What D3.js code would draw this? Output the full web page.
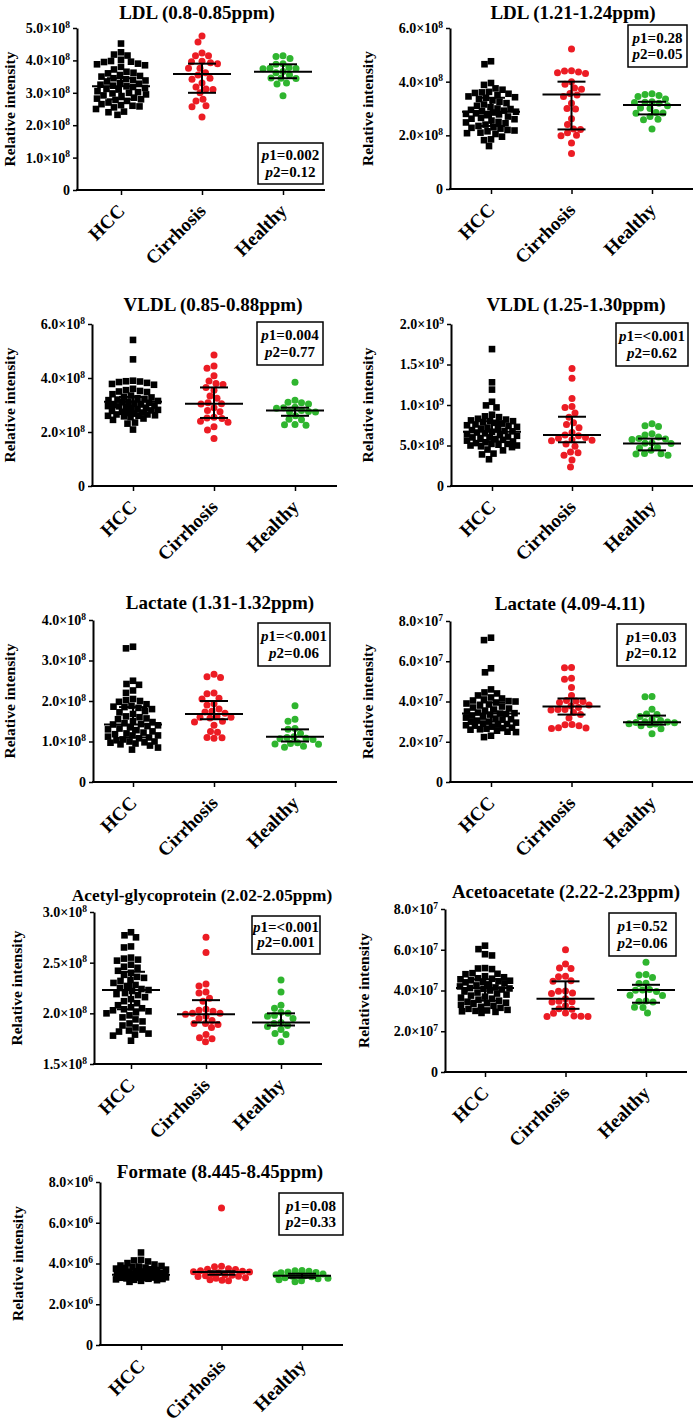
<!DOCTYPE html>
<html><head><meta charset="utf-8">
<script src="https://cdn.jsdelivr.net/npm/d3@7"></script>
<style>body{margin:0;background:#fff}svg{display:block}text{font-family:"Liberation Serif","Times New Roman",serif;font-weight:bold}</style>
</head><body>
<svg id="c" width="695" height="1425"></svg>
<script>
// ---------------- DATA ----------------
const groups = ["HCC", "Cirrhosis", "Healthy"];
const titles = ["LDL (0.8-0.85ppm)", "LDL (1.21-1.24ppm)", "VLDL (0.85-0.88ppm)", "VLDL (1.25-1.30ppm)",
  "Lactate (1.31-1.32ppm)", "Lactate (4.09-4.11)", "Acetyl-glycoprotein (2.02-2.05ppm)",
  "Acetoacetate (2.22-2.23ppm)", "Formate (8.445-8.45ppm)"];
const p1Values = ["0.002", "0.28", "0.004", "<0.001", "<0.001", "0.03", "<0.001", "0.52", "0.08"];
const p2Values = ["0.12", "0.05", "0.77", "0.62", "0.06", "0.12", "0.001", "0.06", "0.33"];
// value units: panels 1-5,7 in 1e8; panels 6,8 in 1e7; panel 9 in 1e6
const yDomains = [[0,5],[0,6],[0,6],[0,20],[0,4],[0,8],[1.5,3],[0,8],[0,8]];
const yTickValues = [[0,1,2,3,4,5],[0,2,4,6],[0,2,4,6],[0,5,10,15,20],[0,1,2,3,4],[0,2,4,6,8],[1.5,2,2.5,3],[0,2,4,6,8],[0,2,4,6,8]];
const yTickMantissa = [["0","1.0","2.0","3.0","4.0","5.0"],["0","2.0","4.0","6.0"],["0","2.0","4.0","6.0"],
  ["0","5.0","1.0","1.5","2.0"],["0","1.0","2.0","3.0","4.0"],["0","2.0","4.0","6.0","8.0"],
  ["1.5","2.0","2.5","3.0"],["0","2.0","4.0","6.0","8.0"],["0","2.0","4.0","6.0","8.0"]];
const yTickExponent = [[null,8,8,8,8,8],[null,8,8,8],[null,8,8,8],[null,8,9,9,9],[null,8,8,8,8],
  [null,7,7,7,7],[8,8,8,8],[null,7,7,7,7],[null,6,6,6,6]];

const hccValues = [
  [4.52,4.25,4.18,4.15,4.02,3.98,3.96,3.95,3.9,3.88,3.85,3.8,3.72,3.65,3.62,3.6,3.55,3.52,3.5,3.45,3.42,3.4,3.38,3.35,3.3,3.28,3.25,3.22,3.2,3.18,3.15,3.12,3.1,3.05,3.02,3.0,2.98,2.95,2.92,2.9,2.85,2.82,2.8,2.78,2.75,2.7,2.65,2.62,2.6,2.58,2.55,2.5,2.42,2.4,2.32],
  [4.76,4.65,3.95,3.88,3.75,3.7,3.62,3.6,3.58,3.55,3.5,3.45,3.42,3.4,3.35,3.3,3.25,3.2,3.15,3.1,3.05,3.0,2.98,2.95,2.92,2.9,2.88,2.85,2.82,2.8,2.78,2.75,2.7,2.65,2.62,2.6,2.55,2.5,2.48,2.45,2.4,2.35,2.3,2.28,2.25,2.2,2.18,2.15,2.1,2.08,2.05,1.95,1.85,1.82,1.6],
  [5.41,4.69,3.9,3.88,3.87,3.85,3.82,3.78,3.75,3.6,3.55,3.52,3.5,3.48,3.4,3.35,3.3,3.28,3.25,3.22,3.2,3.18,3.15,3.12,3.1,3.08,3.05,3.02,3.0,2.98,2.96,2.95,2.92,2.9,2.88,2.85,2.82,2.8,2.78,2.75,2.72,2.7,2.68,2.65,2.65,2.62,2.6,2.6,2.58,2.55,2.5,2.45,2.35,2.31,2.09],
  [16.9,12.8,11.9,10.4,9.95,9.7,8.8,8.6,8.5,8.3,8.2,8.1,8.0,8.0,7.9,7.8,7.7,7.6,7.5,7.4,7.3,7.2,7.1,7.0,6.9,6.8,6.75,6.7,6.6,6.5,6.4,6.3,6.2,6.1,6.0,6.0,5.9,5.8,5.7,5.6,5.5,5.4,5.3,5.2,5.2,5.1,5.0,5.0,4.9,4.8,4.5,4.4,4.0,3.9,3.3],
  [3.34,3.3,2.5,2.42,2.4,2.26,2.2,2.05,2.02,2.0,1.98,1.92,1.88,1.86,1.85,1.83,1.8,1.75,1.72,1.68,1.62,1.6,1.57,1.55,1.5,1.48,1.45,1.43,1.42,1.4,1.38,1.35,1.32,1.3,1.28,1.25,1.22,1.2,1.18,1.15,1.15,1.12,1.1,1.08,1.05,1.03,1.0,1.0,0.98,0.97,0.95,0.93,0.9,0.85,0.8],
  [7.17,7.05,5.65,5.45,4.6,4.45,4.4,4.3,4.2,4.15,4.1,4.05,4.02,4.0,3.95,3.9,3.85,3.8,3.75,3.7,3.65,3.6,3.55,3.5,3.45,3.42,3.4,3.38,3.35,3.3,3.25,3.2,3.15,3.12,3.1,3.05,3.0,3.0,2.95,2.9,2.88,2.85,2.82,2.8,2.75,2.7,2.68,2.65,2.62,2.6,2.55,2.5,2.48,2.3,2.23],
  [2.8,2.77,2.75,2.66,2.65,2.55,2.54,2.53,2.52,2.48,2.46,2.45,2.42,2.4,2.38,2.36,2.35,2.33,2.32,2.3,2.28,2.27,2.25,2.24,2.23,2.22,2.2,2.19,2.18,2.16,2.14,2.12,2.1,2.08,2.06,2.05,2.04,2.03,2.02,2.01,2.0,1.98,1.96,1.94,1.92,1.9,1.88,1.86,1.84,1.83,1.82,1.8,1.79,1.78,1.73],
  [6.2,6.03,5.78,5.72,5.1,5.08,5.05,4.85,4.82,4.8,4.7,4.65,4.6,4.58,4.55,4.5,4.48,4.45,4.42,4.4,4.35,4.3,4.25,4.2,4.15,4.12,4.1,4.08,4.05,4.0,3.95,3.9,3.85,3.8,3.75,3.7,3.65,3.6,3.55,3.5,3.45,3.4,3.38,3.35,3.3,3.25,3.2,3.15,3.1,3.05,3.02,3.0,2.98,2.95,2.9],
  [4.54,4.18,4.15,4.1,4.02,3.95,3.9,3.88,3.85,3.82,3.8,3.78,3.75,3.72,3.7,3.68,3.65,3.62,3.6,3.58,3.56,3.55,3.54,3.52,3.5,3.5,3.48,3.47,3.46,3.45,3.44,3.43,3.42,3.41,3.4,3.4,3.38,3.37,3.36,3.35,3.34,3.33,3.32,3.31,3.3,3.3,3.28,3.27,3.25,3.24,3.22,3.2,3.18,3.15,3.1]
];
const cirrhosisValues = [
  [4.75,4.57,4.23,4.14,4.14,3.97,3.96,3.93,3.9,3.76,3.76,3.62,3.55,3.45,3.42,3.3,3.18,3.12,3.1,3.0,2.8,2.75,2.6,2.57,2.25],
  [5.22,4.41,4.4,4.36,4.33,4.3,4.0,3.9,3.76,3.72,3.56,3.5,3.45,3.2,3.0,2.98,2.62,2.4,2.24,2.22,2.1,2.0,1.98,1.71,1.32],
  [4.85,4.44,4.36,4.08,3.89,3.8,3.76,3.65,3.55,3.33,3.25,3.08,3.05,3.04,2.9,2.8,2.75,2.55,2.52,2.5,2.4,2.36,2.19,2.07,1.76],
  [14.5,13.3,10.8,9.8,9.7,9.0,8.5,7.8,7.6,7.2,6.6,6.3,6.2,6.0,5.9,5.7,5.65,5.6,5.2,4.9,4.2,4.1,3.8,3.2,2.35],
  [2.66,2.6,2.58,2.2,2.18,2.07,2.05,1.93,1.9,1.8,1.75,1.73,1.7,1.62,1.6,1.6,1.58,1.5,1.48,1.4,1.25,1.23,1.1,1.09,1.08],
  [5.69,5.68,5.15,5.1,4.7,4.3,4.05,4.03,4.0,3.95,3.82,3.78,3.7,3.6,3.6,3.58,3.45,3.35,3.18,2.86,2.84,2.8,2.7,2.68,2.66],
  [2.75,2.6,2.29,2.27,2.21,2.2,2.15,2.12,2.04,2.03,2.02,2.0,2.0,1.99,1.97,1.95,1.93,1.9,1.9,1.89,1.86,1.79,1.76,1.75,1.72],
  [6.0,5.3,5.1,5.08,4.7,4.68,4.48,4.45,3.98,3.96,3.88,3.85,3.6,3.47,3.45,3.43,3.25,3.1,3.08,2.9,2.88,2.75,2.74,2.73,2.72],
  [6.72,3.86,3.84,3.74,3.72,3.7,3.65,3.62,3.6,3.58,3.55,3.5,3.45,3.42,3.4,3.38,3.36,3.3,3.28,3.2,3.18,3.15]
];
const healthyValues = [
  [4.14,4.12,4.06,3.9,3.88,3.78,3.76,3.75,3.74,3.66,3.62,3.55,3.46,3.45,3.44,3.3,3.27,2.91],
  [3.55,3.52,3.48,3.45,3.35,3.25,3.23,3.22,3.2,3.1,3.02,3.0,2.85,2.83,2.82,2.7,2.6,2.58,2.24],
  [3.84,3.18,3.1,3.08,3.04,2.92,2.9,2.88,2.8,2.76,2.75,2.74,2.6,2.47,2.45,2.28,2.27,2.25],
  [7.7,7.45,7.35,6.45,6.3,6.05,5.85,5.8,5.75,5.3,5.28,5.25,4.75,4.7,4.4,4.0,3.98,3.95,3.8],
  [1.88,1.55,1.5,1.32,1.3,1.2,1.12,1.1,1.08,1.07,1.05,0.97,0.95,0.94,0.93,0.88,0.86],
  [4.25,4.24,3.62,3.38,3.36,3.25,3.1,3.05,3.0,2.98,2.96,2.95,2.9,2.88,2.85,2.8,2.65,2.4],
  [2.33,2.21,2.08,2.05,2.01,2.0,1.98,1.97,1.95,1.91,1.9,1.88,1.87,1.84,1.8,1.79,1.72],
  [5.39,4.78,4.76,4.64,4.36,4.34,4.05,4.03,4.01,3.95,3.77,3.75,3.48,3.46,3.44,3.18,3.16,2.89],
  [3.66,3.64,3.62,3.58,3.56,3.55,3.48,3.45,3.42,3.4,3.38,3.35,3.3,3.28,3.25,3.2,3.15,3.1]
];
// median and interquartile range per panel: [HCC, Cirrhosis, Healthy]
const medians = [[3.2,3.58,3.65],[2.88,3.52,3.13],[3.12,3.05,2.8],[6.7,6.3,5.25],[1.42,1.68,1.12],[3.4,3.75,2.97],[2.23,1.99,1.91],[4.12,3.6,4.02],[3.45,3.58,3.4]];
const lowerQuartiles = [[2.8,3.0,3.45],[2.35,2.22,2.78],[2.75,2.52,2.6],[5.5,5.4,4.4],[1.1,1.55,1.0],[3.0,3.35,2.85],[2.04,1.91,1.88],[3.5,3.1,3.4],[3.32,3.45,3.3]];
const upperQuartiles = [[3.45,3.9,3.88],[3.4,4.0,3.25],[3.3,3.65,2.9],[8.0,8.55,5.85],[1.85,2.0,1.3],[3.95,4.15,3.3],[2.41,2.13,2.0],[4.55,4.45,4.28],[3.7,3.62,3.5]];

// ---------------- LAYOUT ----------------
const layout = [
  {x0:77,  x1:325, g0:121, g2:283, yTop:28,   yBot:190,  tx:197, ty:19,   tfs:19,  lx:15,  box:[258,143,323,184]},
  {x0:450, x1:693, g0:491, g2:652, yTop:28,   yBot:189,  tx:573, ty:19,   tfs:19,  lx:373, box:[628,25,687,67]},
  {x0:92,  x1:337, g0:133, g2:295, yTop:324,  yBot:486,  tx:213, ty:311,  tfs:19,  lx:15,  box:[257,322,323,365]},
  {x0:451, x1:693, g0:492, g2:652, yTop:324,  yBot:486,  tx:576, ty:311,  tfs:19,  lx:373, box:[616,323,688,366]},
  {x0:93,  x1:337, g0:133, g2:295, yTop:620,  yBot:782,  tx:220, ty:609,  tfs:19,  lx:15,  box:[258,623,330,666]},
  {x0:450, x1:693, g0:491, g2:652, yTop:621,  yBot:782,  tx:570, ty:610,  tfs:19,  lx:373, box:[617,624,686,666]},
  {x0:94,  x1:322, g0:131, g2:281, yTop:912,  yBot:1064, tx:202, ty:901,  tfs:17.3,lx:22,  box:[252,916,320,954]},
  {x0:445, x1:687, g0:485, g2:646, yTop:909,  yBot:1072, tx:566, ty:898,  tfs:18.8,lx:369, box:[609,913,676,956]},
  {x0:100, x1:343, g0:141, g2:302, yTop:1182, yBot:1345, tx:220, ty:1178, tfs:19,  lx:23,  box:[279,1193,343,1235]}
];
const colors = ["#000000", "#ec1c24", "#2fb52f"];
const swarmHalfWidth = [25, 28, 26];

const svg = d3.select("#c");
svg.append("rect").attr("width",695).attr("height",1425).attr("fill","#fff");

// beeswarm placement limited to a maximum half-width (points may overlap when crowded)
function swarm(values, y, cx, d, maxHalf) {
  const pts = values.map(v => ({v, y: y(v)})).sort((a, b) => a.y - b.y);
  const placed = [];
  const steps = Math.floor(maxHalf / 0.5);
  for (const p of pts) {
    let bestX = cx, bestScore = -1;
    for (let k = 0; k <= steps * 2; k++) {
      const off = (k % 2 === 0 ? 1 : -1) * Math.ceil(k / 2) * 0.5;
      const cand = cx + off;
      let minD = Infinity;
      for (const q of placed) {
        const dd = Math.hypot(q.x - cand, q.y - p.y);
        if (dd < minD) minD = dd;
      }
      if (minD >= d) { bestX = cand; bestScore = Infinity; break; }
      if (minD > bestScore + 0.01) { bestScore = minD; bestX = cand; }
    }
    p.x = bestX; placed.push(p);
  }
  return pts;
}

layout.forEach((L, i) => {
  const g = svg.append("g");
  const y = d3.scaleLinear().domain(yDomains[i]).range([L.yBot, L.yTop]);
  const x = d3.scalePoint().domain(groups).range([L.g0, L.g2]);

  // title
  g.append("text").attr("x", L.tx).attr("y", L.ty).attr("text-anchor", "middle")
    .attr("font-size", L.tfs).text(titles[i]);

  // y axis
  const ya = g.append("g").attr("transform", `translate(${L.x0},0)`)
    .call(d3.axisLeft(y).tickValues(yTickValues[i]).tickSize(4).tickSizeOuter(0).tickPadding(3));
  ya.select(".domain").attr("stroke-width", 2);
  ya.selectAll(".tick line").attr("stroke-width", 1.5);
  ya.selectAll(".tick text").each(function(d, j) {
    const t = d3.select(this).text(null).attr("font-size", 14)
      .attr("font-family", '"Liberation Serif","Times New Roman",serif').attr("font-weight", "bold");
    const e = yTickExponent[i][j];
    if (e === null) { t.text(yTickMantissa[i][j]); }
    else {
      t.append("tspan").text(yTickMantissa[i][j] + "×10");
      t.append("tspan").attr("font-size", 9.5).attr("dy", "-0.55em").text(e);
    }
  });

  // x axis
  const xa = g.append("g").attr("transform", `translate(0,${L.yBot})`)
    .call(d3.axisBottom(x).tickSize(5).tickSizeOuter(0));
  xa.select(".domain").remove();
  xa.selectAll(".tick line").attr("stroke-width", 1.5);
  xa.selectAll(".tick text").remove();
  g.append("line").attr("x1", L.x0 - 1).attr("x2", L.x1).attr("y1", L.yBot).attr("y2", L.yBot)
    .attr("stroke", "#000").attr("stroke-width", 2);
  groups.forEach(gr => {
    g.append("text").attr("text-anchor", "end").attr("font-size", 19)
      .attr("transform", `translate(${x(gr) + 5},${L.yBot + 22}) rotate(-45)`).text(gr);
  });

  // y label
  g.append("text").attr("text-anchor", "middle").attr("font-size", 15.5)
    .attr("transform", `translate(${L.lx},${(L.yTop + L.yBot) / 2}) rotate(-90)`).text("Relative intensity");

  // points
  const sets = [hccValues[i], cirrhosisValues[i], healthyValues[i]];
  sets.forEach((vals, k) => {
    const pts = swarm(vals, y, x(groups[k]), 7, swarmHalfWidth[k]);
    if (k === 0) {
      g.selectAll(null).data(pts).enter().append("rect")
        .attr("x", d => d.x - 3.3).attr("y", d => d.y - 3.3).attr("width", 6.6).attr("height", 6.6)
        .attr("fill", colors[0]);
    } else {
      g.selectAll(null).data(pts).enter().append("circle")
        .attr("cx", d => d.x).attr("cy", d => d.y).attr("r", 3.5).attr("fill", colors[k]);
    }
  });

  // median + IQR
  groups.forEach((gr, k) => {
    const cx = x(gr);
    const m = y(medians[i][k]), lo = y(lowerQuartiles[i][k]), hi = y(upperQuartiles[i][k]);
    const ln = (x1, y1, x2, y2) => g.append("line").attr("x1", x1).attr("y1", y1).attr("x2", x2).attr("y2", y2)
      .attr("stroke", "#000").attr("stroke-width", 2);
    ln(cx - 29, m, cx + 29, m);
    ln(cx, lo, cx, hi);
    ln(cx - 14, lo, cx + 14, lo);
    ln(cx - 14, hi, cx + 14, hi);
  });

  // p-value box
  const [bx0, by0, bx1, by1] = L.box;
  g.append("rect").attr("x", bx0).attr("y", by0).attr("width", bx1 - bx0).attr("height", by1 - by0)
    .attr("fill", "#fff").attr("stroke", "#000").attr("stroke-width", 1.5);
  const bcx = (bx0 + bx1) / 2, bh = by1 - by0;
  [["1", p1Values[i]], ["2", p2Values[i]]].forEach(([n, v], r) => {
    const t = g.append("text").attr("x", bcx).attr("y", by0 + bh * (r === 0 ? 0.42 : 0.82))
      .attr("text-anchor", "middle").attr("font-size", 15);
    t.append("tspan").attr("font-style", "italic").text("p");
    t.append("tspan").text(n + "=" + v);
  });
});
</script>
</body></html>
